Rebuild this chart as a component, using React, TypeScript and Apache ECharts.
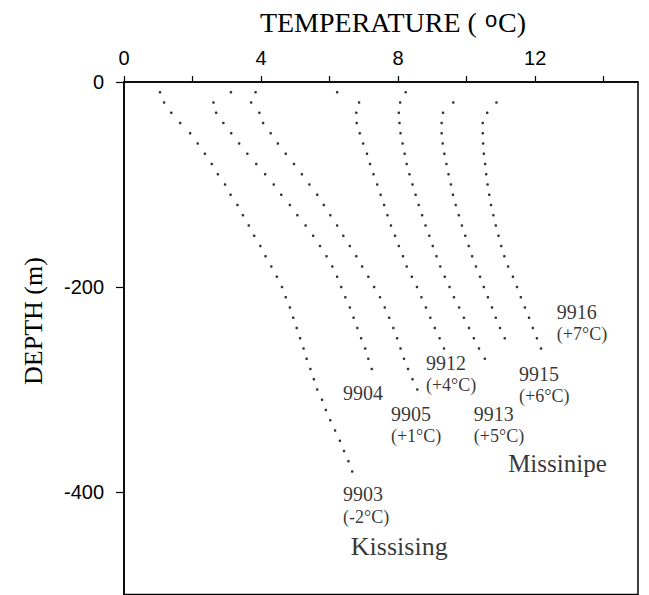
import React, { useEffect, useRef } from 'react';
import * as echarts from 'echarts';

// Depth of each reading (m), shared by all boreholes
const DEPTH_M = [
  -10, -20, -30, -40, -50, -60, -70, -80, -90, -100,
  -110, -120, -130, -140, -150, -160, -170, -180, -190, -200,
  -210, -220, -230, -240, -250, -260, -270, -280, -290, -300,
  -310, -320, -330, -340, -350, -360, -370, -380,
];

// Temperatures (°C) at DEPTH_M[i]; null = no reading
const T_9903 = [
  1.05, 1.17, 1.38, 1.64, 1.93, 2.15, 2.36, 2.56, 2.74, 2.95,
  3.11, 3.31, 3.47, 3.64, 3.8, 3.98, 4.13, 4.3, 4.46, 4.61,
  4.72, 4.84, 4.94, 5.04, 5.14, 5.24, 5.33, 5.44, 5.54, 5.64,
  5.78, 5.89, 6.02, 6.16, 6.3, 6.42, 6.55, 6.66,
];
const T_9904 = [
  3.12, 2.61, 2.69, 2.9, 3.13, 3.36, 3.6, 3.86, 4.12, 4.37,
  4.59, 4.84, 5.06, 5.3, 5.52, 5.72, 5.91, 6.08, 6.22, 6.34,
  6.46, 6.59, 6.7, 6.81, 6.92, 7.04, 7.13, 7.23,
];
const T_9905 = [
  3.84, 3.71, 3.95, 4.06, 4.28, 4.49, 4.72, 4.96, 5.19, 5.41,
  5.64, 5.83, 6.02, 6.22, 6.4, 6.59, 6.78, 6.95, 7.13, 7.3,
  7.47, 7.61, 7.74, 7.86, 7.97, 8.07, 8.17, 8.29, 8.42, 8.56,
];
const T_9912 = [
  6.22, 6.86, 6.78, 6.79, 6.88, 6.98, 7.09, 7.18, 7.28, 7.39,
  7.49, 7.59, 7.69, 7.79, 7.91, 8.02, 8.14, 8.25, 8.4, 8.55,
  8.68, 8.81, 8.94, 9.07, 9.21, 9.34,
];
const T_9913 = [
  8.22, 8.06, 8.02, 8.04, 8.07, 8.13, 8.19, 8.25, 8.33, 8.42,
  8.51, 8.6, 8.7, 8.8, 8.91, 9.01, 9.12, 9.23, 9.36, 9.5,
  9.63, 9.78, 9.92, 10.07, 10.21, 10.36, 10.53,
];
const T_9915 = [
  null, 9.61, 9.31, 9.27, 9.27, 9.3, 9.35, 9.41, 9.47, 9.54,
  9.6, 9.68, 9.77, 9.86, 9.96, 10.06, 10.16, 10.27, 10.39, 10.5,
  10.62, 10.74, 10.85, 10.97, 11.11,
];
const T_9916 = [
  null, 10.87, 10.6, 10.47, 10.47, 10.48, 10.5, 10.54, 10.57, 10.61,
  10.66, 10.71, 10.78, 10.85, 10.93, 11.01, 11.1, 11.21, 11.35, 11.47,
  11.58, 11.7, 11.82, 11.93, 12.05, 12.17,
];

const BOREHOLES = ['9903', '9904', '9905', '9912', '9913', '9915', '9916'];
const TEMPS = [T_9903, T_9904, T_9905, T_9912, T_9913, T_9915, T_9916];

// Axis ticks
const X_TICKS = [0, 2, 4, 6, 8, 10, 12, 14];
const X_LABELS = [0, 4, 8, 12];
const Y_TICKS = [0, -200, -400];

// Annotation texts and their anchors (temperature, depth)
const NOTE_TEXT = [
  '9916', '(+7°C)', '9912', '(+4°C)', '9915', '(+6°C)', '9904',
  '9905', '(+1°C)', '9913', '(+5°C)', 'Missinipe', '9903', '(-2°C)', 'Kissising',
];
const NOTE_T = [12.63, 12.63, 8.81, 8.81, 11.53, 11.53, 6.39, 7.79, 7.79, 10.21, 10.21, 11.21, 6.39, 6.39, 6.62];
const NOTE_DEPTH = [-224, -246, -274, -296, -285, -306, -303, -324, -345, -324, -345, -372, -402, -424, -453];

const SERIF = '"Liberation Serif", "Times New Roman", Times, serif';
const SANS = '"Liberation Sans", Arial, Helvetica, sans-serif';

export default function App() {
  const ref = useRef<HTMLDivElement>(null);

  useEffect(() => {
    if (!ref.current) return;
    const chart = echarts.init(ref.current, undefined, { renderer: 'svg' });

    const profileSeries = BOREHOLES.map((id, k) => ({
      name: id,
      type: 'scatter',
      symbol: 'circle',
      symbolSize: 2.6,
      itemStyle: { color: '#000' },
      silent: true,
      data: TEMPS[k]
        .map((t, i) => (t == null ? null : [t, DEPTH_M[i]]))
        .filter((p) => p !== null),
    }));

    const noteData = NOTE_TEXT.map((txt, i) => {
      const isSite = txt === 'Missinipe' || txt === 'Kissising';
      const isParen = txt.startsWith('(');
      return {
        value: [NOTE_T[i], NOTE_DEPTH[i]],
        label: {
          show: true,
          formatter: txt,
          color: '#000',
          textBorderWidth: 0,
          fontFamily: SERIF,
          fontSize: txt === 'Kissising' ? 26 : isSite ? 25 : isParen ? 18 : 20,
        },
      };
    });

    chart.setOption({
      animation: false,
      backgroundColor: '#fff',
      grid: {
        left: 124,
        top: 82,
        width: 514,
        height: 512.5,
        show: true,
        borderColor: '#000',
        borderWidth: 1.5,
        backgroundColor: 'transparent',
      },
      xAxis: {
        type: 'value',
        position: 'top',
        min: 0,
        max: 15,
        interval: 2,
        axisLine: { show: true, lineStyle: { color: '#000', width: 1.5 } },
        axisTick: {
          show: true,
          inside: false,
          length: 6,
          customValues: X_TICKS,
          lineStyle: { color: '#000', width: 1.2 },
        },
        axisLabel: {
          customValues: X_LABELS,
          fontFamily: SANS,
          fontSize: 20,
          color: '#000',
          margin: 14,
        },
        splitLine: { show: false },
      },
      yAxis: {
        type: 'value',
        min: -500,
        max: 0,
        interval: 100,
        axisLine: { show: true, lineStyle: { color: '#000', width: 1.5 } },
        axisTick: {
          show: true,
          inside: false,
          length: 8,
          customValues: Y_TICKS,
          lineStyle: { color: '#000', width: 1.2 },
        },
        axisLabel: {
          customValues: Y_TICKS,
          fontFamily: SANS,
          fontSize: 20,
          color: '#000',
          margin: 20,
        },
        splitLine: { show: false },
      },
      series: [
        ...profileSeries,
        {
          name: 'notes',
          type: 'scatter',
          symbolSize: 0,
          silent: true,
          label: {
            show: true,
            position: 'inside',
            align: 'left',
            verticalAlign: 'middle',
            fontFamily: SERIF,
            color: '#000',
            textBorderWidth: 0,
          },
          data: noteData,
        },
      ],
      graphic: [
        {
          type: 'text',
          x: 393,
          y: 22,
          style: {
            text: 'TEMPERATURE ( {s|o}C)',
            fontFamily: SERIF,
            fontSize: 28,
            fill: '#000',
            align: 'center',
            verticalAlign: 'middle',
            rich: {
              s: {
                fontFamily: SANS,
                fontSize: 22,
                lineHeight: 22,
                verticalAlign: 'top',
                fill: '#000',
                padding: [0, 1, 0, 1],
              },
            },
          },
        },
        {
          type: 'text',
          x: 33,
          y: 321,
          rotation: Math.PI / 2,
          style: {
            text: 'DEPTH (m)',
            fontFamily: SERIF,
            fontSize: 26,
            fill: '#000',
            align: 'center',
            verticalAlign: 'middle',
          },
        },
      ],
    });

    return () => chart.dispose();
  }, []);

  return (
    <div
      ref={ref}
      style={{ position: 'fixed', left: 0, top: 0, width: 649, height: 595, background: '#fff' }}
    />
  );
}
